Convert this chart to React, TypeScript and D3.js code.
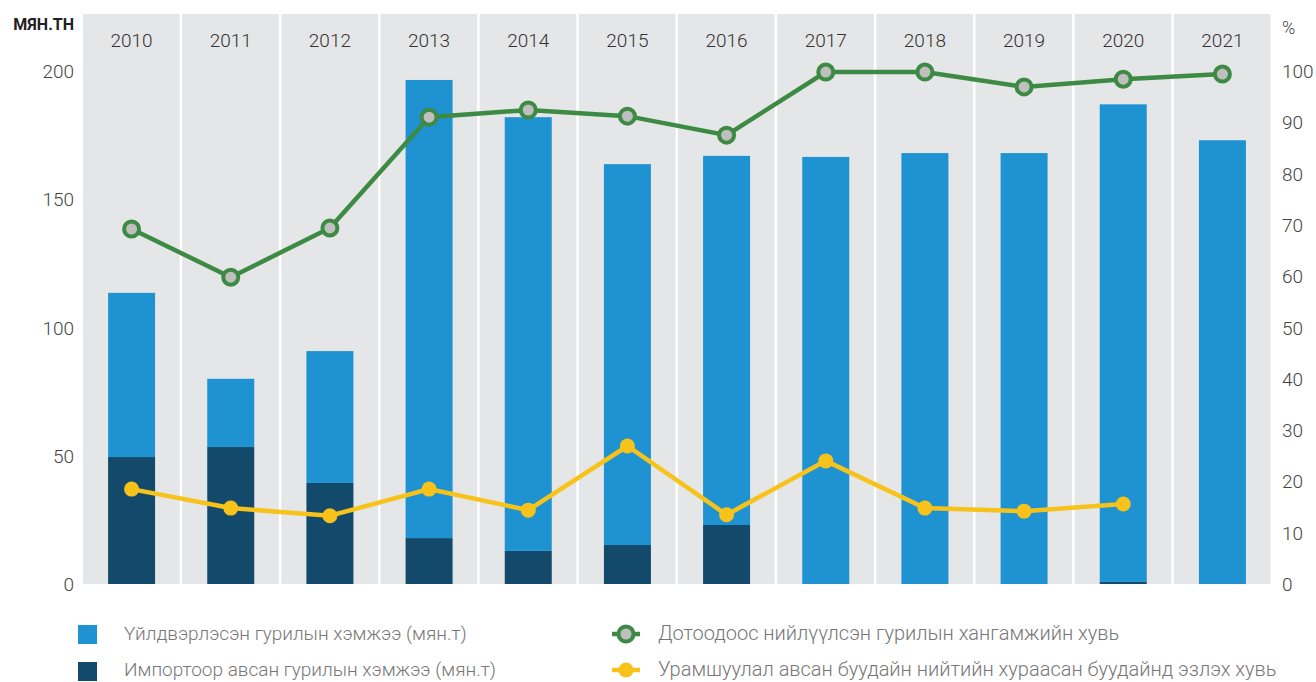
import React from 'react';
import * as d3 from 'd3';

const years = ['2010', '2011', '2012', '2013', '2014', '2015', '2016', '2017', '2018', '2019', '2020', '2021'];
const imported = [49.5, 53.4, 39.4, 17.9, 12.9, 15.2, 23, 0, 0, 0, 0.8, 0];
const produced = [64, 26.6, 51.4, 178.6, 169.1, 148.5, 143.9, 166.5, 168, 168, 186.2, 173];
const domesticShare = [69.2, 59.8, 69.4, 91, 92.4, 91.2, 87.5, 99.8, 99.8, 96.9, 98.4, 99.4];
const subsidyShare = [18.5, 14.8, 13.3, 18.5, 14.4, 26.9, 13.5, 24, 14.8, 14.2, 15.6, null];
const leftTicks = [0, 50, 100, 150, 200];
const rightTicks = [0, 10, 20, 30, 40, 50, 60, 70, 80, 90, 100];

const legendLabels = [
  'Үйлдвэрлэсэн гурилын хэмжээ (мян.т)',
  'Импортоор авсан гурилын хэмжээ (мян.т)',
  'Дотоодоос нийлүүлсэн гурилын хангамжийн хувь',
  'Урамшуулал авсан буудайн нийтийн хураасан буудайнд эзлэх хувь',
];

const C_LIGHT = '#1f93d1';
const C_DARK = '#134a6b';
const C_GREEN = '#3d8a45';
const C_YELLOW = '#f7c31a';
const C_BG = '#e5e6e8';

export default function App() {
  const W = 1316, H = 682;
  const left = 82, right = 1272, top = 14, bottom = 584;

  const x = d3.scaleBand().domain(years).range([left, right]).padding(0);
  const yL = d3.scaleLinear().domain([0, 200]).range([bottom, 71]);
  const yR = d3.scaleLinear().domain([0, 100]).range([bottom, 71]);

  const barW = 47;
  const cx = (i: number) => (x(years[i]) as number) + x.bandwidth() / 2;

  const greenLine = d3.line<number>().x((d, i) => cx(i)).y(d => yR(d));
  const yellowPts = subsidyShare.map((v, i) => ({ v, i })).filter(p => p.v !== null) as { v: number; i: number }[];
  const yellowLine = d3.line<{ v: number; i: number }>().x(d => cx(d.i)).y(d => yR(d.v));

  const font = 'Roboto, sans-serif';
  const row1 = 640, row2 = 676;

  return (
    <svg width={W} height={H} style={{ position: 'absolute', left: 0, top: 0, background: '#fff' }} fontFamily={font}>
      {/* column backgrounds */}
      {years.map(yr => (
        <rect key={'bg' + yr} x={(x(yr) as number) + 1} y={top} width={x.bandwidth() - 2.5} height={bottom - top} fill={C_BG} />
      ))}
      {years.map(yr => (
        <text key={'yr' + yr} x={(x(yr) as number) + x.bandwidth() / 2} y={47} textAnchor="middle" fontSize={19} fontWeight={300} fill="#333">{yr}</text>
      ))}
      {/* bars */}
      {years.map((yr, i) => (
        <g key={'bar' + yr}>
          <rect x={cx(i) - barW / 2} y={yL(imported[i])} width={barW} height={bottom - yL(imported[i])} fill={C_DARK} />
          <rect x={cx(i) - barW / 2} y={yL(imported[i] + produced[i])} width={barW} height={yL(imported[i]) - yL(imported[i] + produced[i])} fill={C_LIGHT} />
        </g>
      ))}
      {/* lines */}
      <path d={greenLine(domesticShare) || ''} fill="none" stroke={C_GREEN} strokeWidth={4.5} />
      {domesticShare.map((v, i) => (
        <circle key={'g' + i} cx={cx(i)} cy={yR(v)} r={7.5} fill="#bfbfbf" stroke={C_GREEN} strokeWidth={4} />
      ))}
      <path d={yellowLine(yellowPts) || ''} fill="none" stroke={C_YELLOW} strokeWidth={4.5} />
      {yellowPts.map(p => (
        <circle key={'y' + p.i} cx={cx(p.i)} cy={yR(p.v)} r={7.5} fill={C_YELLOW} />
      ))}
      {/* left axis */}
      {leftTicks.map(t => (
        <text key={'l' + t} x={74} y={yL(t) + 7} textAnchor="end" fontSize={19} fontWeight={300} fill="#444">{t}</text>
      ))}
      <text x={74} y={30} textAnchor="end" fontSize={16} fontWeight={700} fill="#222">МЯН.ТН</text>
      {/* right axis */}
      {rightTicks.map(t => (
        <text key={'r' + t} x={1282} y={yR(t) + 7} textAnchor="start" fontSize={19} fontWeight={300} fill="#444">{t}</text>
      ))}
      <text x={1282} y={34} textAnchor="start" fontSize={18} fontWeight={300} fill="#444">%</text>
      {/* legend */}
      <rect x={78} y={row1 - 15} width={19} height={19} fill={C_LIGHT} />
      <text x={124} y={row1} fontSize={19} fontWeight={300} fill="#777">{legendLabels[0]}</text>
      <rect x={78} y={row2 - 14} width={19} height={19} fill={C_DARK} />
      <text x={124} y={row2} fontSize={19} fontWeight={300} fill="#777">{legendLabels[1]}</text>
      <line x1={612} x2={640} y1={row1 - 6} y2={row1 - 6} stroke={C_GREEN} strokeWidth={4.5} />
      <circle cx={626} cy={row1 - 6} r={7.5} fill="#bfbfbf" stroke={C_GREEN} strokeWidth={4} />
      <text x={658} y={row1} fontSize={20} fontWeight={300} fill="#777">{legendLabels[2]}</text>
      <line x1={612} x2={640} y1={row2 - 6} y2={row2 - 6} stroke={C_YELLOW} strokeWidth={4.5} />
      <circle cx={626} cy={row2 - 6} r={7.5} fill={C_YELLOW} />
      <text x={658} y={row2} fontSize={20} fontWeight={300} fill="#777">{legendLabels[3]}</text>
    </svg>
  );
}
